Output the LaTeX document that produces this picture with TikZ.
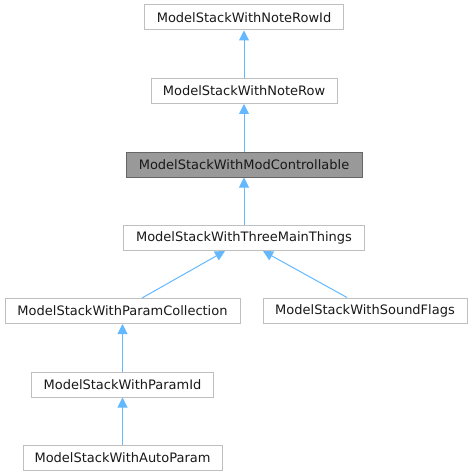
\documentclass[tikz,border=0pt]{standalone}
\usepackage{fontspec}
\setmainfont{DejaVu Sans}
\usetikzlibrary{arrows.meta}
\definecolor{boxline}{HTML}{BFBFBF}
\definecolor{hlfill}{HTML}{999999}
\definecolor{hlline}{HTML}{666666}
\definecolor{edgeblue}{HTML}{63B8FF}
\begin{document}
\begin{tikzpicture}[x=1pt,y=-1pt,
  cls/.style={draw=boxline,line width=1pt,fill=white,inner sep=0pt,minimum height=25pt,
    font=\fontsize{13}{15}\selectfont,text=black!90},
  hl/.style={cls,draw=hlline,fill=hlfill},
  inh/.style={draw=edgeblue,line width=1pt,-{Triangle[length=10pt,width=10pt,fill=edgeblue]}}]
\useasboundingbox (0,0) rectangle (472,476);
\node[cls,minimum width=199pt] (n1) at (244,17.5) {ModelStackWithNoteRowId};
\node[cls,minimum width=186pt] (n2) at (244,91) {ModelStackWithNoteRow};
\node[hl,minimum width=236pt] (n3) at (244,164.5) {ModelStackWithModControllable};
\node[cls,minimum width=241pt] (n4) at (244,238) {ModelStackWithThreeMainThings};
\node[cls,minimum width=235pt] (n5) at (122.5,311) {ModelStackWithParamCollection};
\node[cls,minimum width=204pt] (n6) at (365,310.5) {ModelStackWithSoundFlags};
\node[cls,minimum width=182pt] (n7) at (122.5,384.5) {ModelStackWithParamId};
\node[cls,minimum width=199pt] (n8) at (122.5,457.5) {ModelStackWithAutoParam};
\draw[inh] (n2.north) -- (n1.south);
\draw[inh] (n3.north) -- (n2.south);
\draw[inh] (n4.north) -- (n3.south);
\draw[inh] ([xshift=19.5pt]n5.north) -- ([xshift=-19pt]n4.south);
\draw[inh] ([xshift=-18pt]n6.north) -- ([xshift=19pt]n4.south);
\draw[inh] (n7.north) -- (n5.south);
\draw[inh] (n8.north) -- (n7.south);
\end{tikzpicture}
\end{document}
